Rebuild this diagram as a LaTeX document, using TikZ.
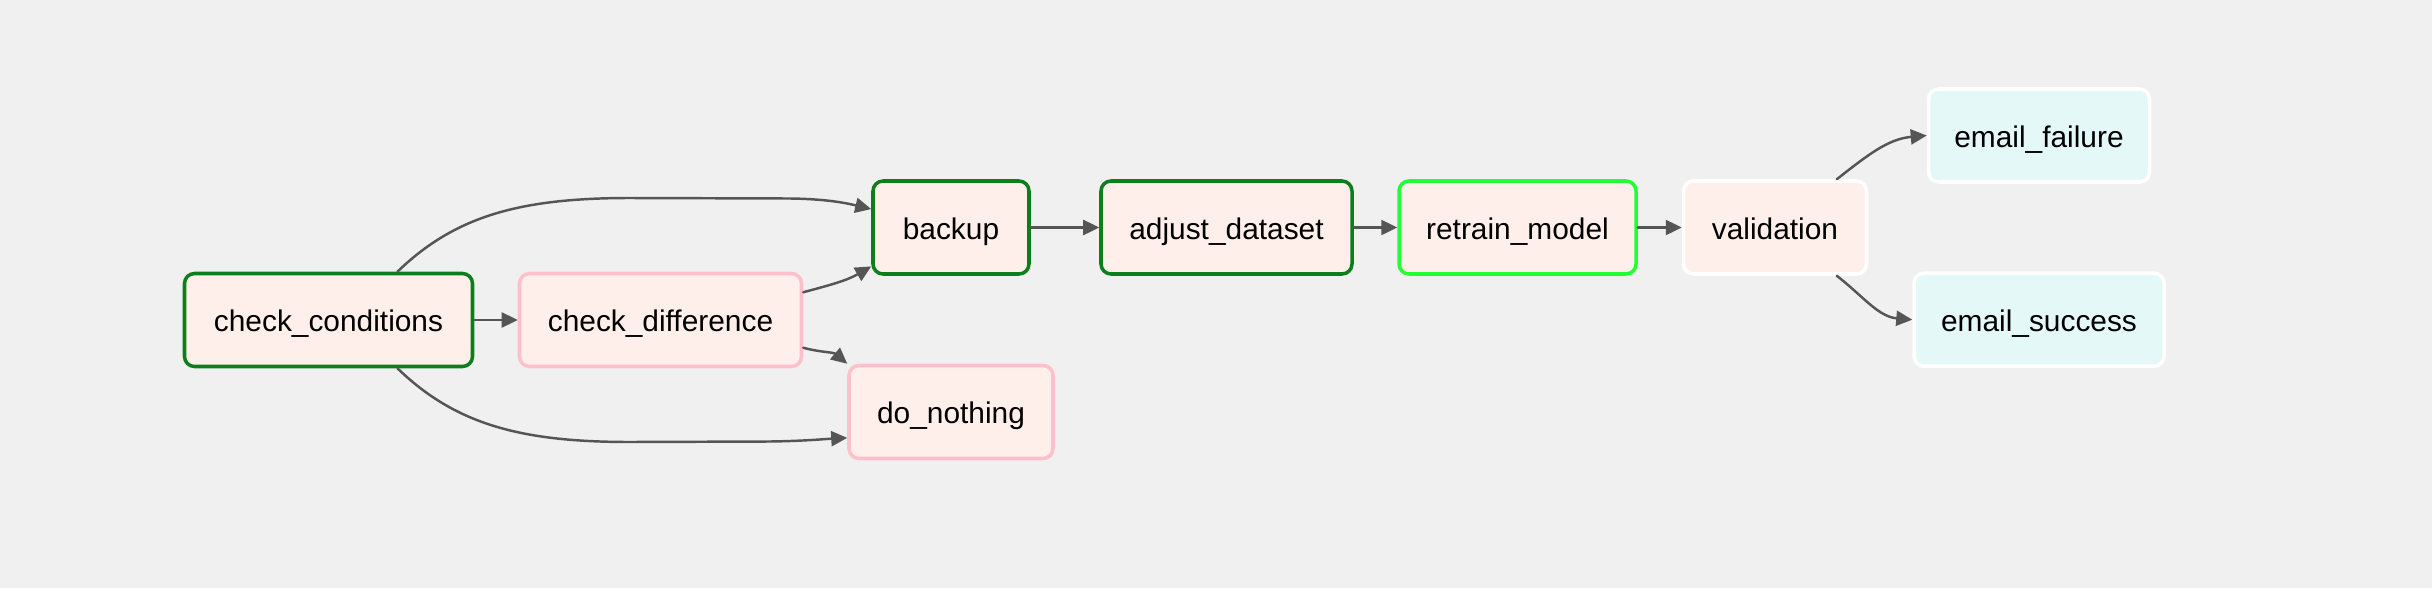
\documentclass[tikz,border=0pt]{standalone}
\usepackage{fontspec}
\setmainfont{Liberation Sans}
\usetikzlibrary{arrows.meta}
\definecolor{canvas}{HTML}{F0F0F0}
\definecolor{pyfill}{HTML}{FFEFEB}
\definecolor{mailfill}{HTML}{E4F8F7}
\definecolor{success}{HTML}{0B7F1B}
\definecolor{skipped}{HTML}{FFC0CB}
\definecolor{running}{HTML}{22FF33}
\definecolor{edgegray}{HTML}{555555}

\begin{document}
\begin{tikzpicture}[line cap=round,line join=round,>={Triangle[length=1.6mm,width=1.5mm]},x=1.0cm,y=1.0cm,
        taskbox/.style={draw=white,fill=pyfill,line width=1pt,rounded corners=0.1cm,minimum height=0.93cm,inner sep=0pt,text height=0.3cm,text depth=0.07cm,font=\fontsize{8.5}{10}\selectfont},
        okbox/.style={taskbox,draw=success},
        skipbox/.style={taskbox,draw=skipped},
        runbox/.style={taskbox,draw=running},
        mailbox/.style={taskbox,fill=mailfill},
        edgeline/.style={->,draw=edgegray,line width=0.7pt}]
        \fill [canvas] (0.,0.) rectangle (24.32,5.88);

        \node [okbox,minimum width=2.88cm] (cc) at (3.285,2.68) {check\_conditions};
        \node [skipbox,minimum width=2.82cm] (cd) at (6.605,2.68) {check\_difference};
        \node [okbox,minimum width=1.56cm] (bk) at (9.51,3.605) {backup};
        \node [skipbox,minimum width=2.04cm] (dn) at (9.51,1.76) {do\_nothing};
        \node [okbox,minimum width=2.51cm] (ad) at (12.265,3.605) {adjust\_dataset};
        \node [runbox,minimum width=2.37cm] (rm) at (15.175,3.605) {retrain\_model};
        \node [taskbox,minimum width=1.83cm] (va) at (17.75,3.605) {validation};
        \node [mailbox,minimum width=2.21cm] (ef) at (20.39,4.525) {email\_failure};
        \node [mailbox,minimum width=2.50cm] (es) at (20.39,2.683) {email\_success};

        \draw [edgeline] (cc.east) -- (cd.west);
        \draw [edgeline] (cc.35) .. controls (4.55,3.72) and (5.2,3.90) .. (6.3,3.90) -- (7.9,3.895) .. controls (8.3,3.89) and (8.5,3.84) .. (bk.167);
        \draw [edgeline] (cc.-35) .. controls (4.55,1.64) and (5.2,1.46) .. (6.3,1.46) -- (7.7,1.465) .. controls (8.05,1.47) and (8.25,1.49) .. (dn.194);
        \draw [edgeline] (cd.11) to[out=15,in=210] (bk.206);
        \draw [edgeline] (cd.-11) to[out=-15,in=140] (dn.north west);
        \draw [edgeline] (bk.east) -- (ad.west);
        \draw [edgeline] (ad.east) -- (rm.west);
        \draw [edgeline] (rm.east) -- (va.west);
        \draw [edgeline] (va.38) to[out=38,in=185] (ef.west);
        \draw [edgeline] (va.-38) to[out=-38,in=175] (es.west);
\end{tikzpicture}
\end{document}
